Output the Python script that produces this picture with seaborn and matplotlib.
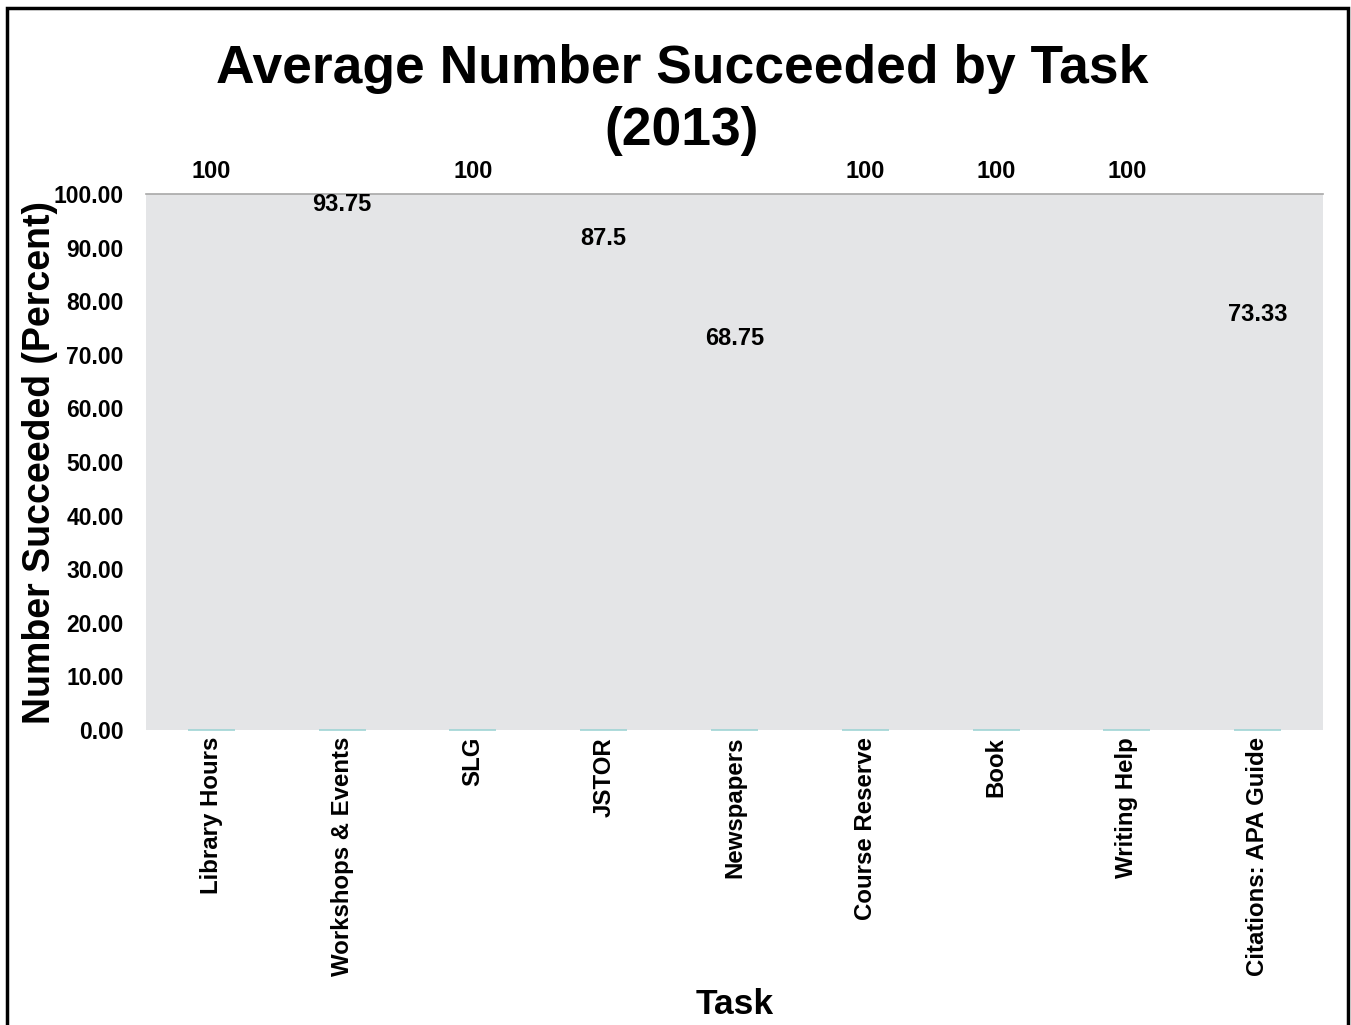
import matplotlib
matplotlib.use("Agg")
import matplotlib.pyplot as plt
import seaborn as sns
import pandas as pd
from matplotlib.patches import Rectangle

tasks = ["Library Hours", "Workshops & Events", "SLG", "JSTOR", "Newspapers",
         "Course Reserve", "Book", "Writing Help", "Citations: APA Guide"]
succeeded = [100, 93.75, 100, 87.5, 68.75, 100, 100, 100, 73.33]
value_labels = ["100", "93.75", "100", "87.5", "68.75", "100", "100", "100", "73.33"]
y_ticks = [0, 10, 20, 30, 40, 50, 60, 70, 80, 90, 100]

sns.set_theme(style="white")
plt.rcParams["font.family"] = ["Liberation Sans", "DejaVu Sans"]
plt.rcParams["font.weight"] = "bold"
plt.rcParams["text.color"] = "black"
plt.rcParams["axes.labelcolor"] = "black"
plt.rcParams["xtick.color"] = "black"
plt.rcParams["ytick.color"] = "black"

panel_bg = "#E4E5E7"
base_teal = "#9FD4D4"

df = pd.DataFrame({"Task": tasks, "Succeeded": succeeded})

fig = plt.figure(figsize=(13.51, 10.25), dpi=100)
ax = fig.add_axes([146 / 1351, 1 - 730 / 1025, (1323 - 146) / 1351, (730 - 194) / 1025])
ax.set_facecolor(panel_bg)

sns.barplot(data=df, x="Task", y="Succeeded", color=panel_bg, width=0.36,
            saturation=1, edgecolor="none", ax=ax, zorder=2)
ax.set_xlim(-0.5, len(tasks) - 0.5)

# thin teal base line under each column
for p in ax.patches:
    ax.plot([p.get_x(), p.get_x() + p.get_width()], [p.get_y(), p.get_y()],
            color=base_teal, lw=1.2, solid_capstyle="butt", zorder=3, clip_on=False)

ax.bar_label(ax.containers[0], labels=value_labels, padding=8,
             fontsize=17, fontweight="bold", color="black")

ax.set_ylim(0, 100)
ax.set_yticks(y_ticks)
ax.set_yticklabels([f"{v:.2f}" for v in y_ticks], fontsize=16.5, fontweight="bold")
ax.tick_params(axis="y", length=0, pad=16)
ax.tick_params(axis="x", length=0, pad=5)
ax.set_xticks(range(len(tasks)))
ax.set_xticklabels(tasks, rotation=90, fontsize=17.3, fontweight="bold", va="top")

for side in ["left", "right", "bottom"]:
    ax.spines[side].set_visible(False)
ax.spines["top"].set_color("#A8A8A8")
ax.spines["top"].set_linewidth(1.2)

ax.set_xlabel("Task", fontsize=25.5, fontweight="bold")
ax.set_ylabel("Number Succeeded (Percent)", fontsize=27, fontweight="bold")
ax.xaxis.set_label_coords(0.5, -(1005 - 730) / (730 - 194), transform=ax.transAxes)
ax.yaxis.set_label_coords(-(146 - 40) / (1323 - 146), 0.5, transform=ax.transAxes)
ax.xaxis.label.set_va("center")
ax.yaxis.label.set_va("center")

fig.text(682 / 1351, 1 - 100 / 1025, "Average Number Succeeded by Task\n(2013)",
         ha="center", va="center", fontsize=38.4, fontweight="bold",
         linespacing=1.3)

# outer chart frame
fig.patches.append(Rectangle((7 / 1351, -0.05), (1348 - 7) / 1351, 1.05 - 8 / 1025,
                             transform=fig.transFigure, fill=False,
                             edgecolor="black", linewidth=2.5, zorder=10))

fig.savefig("out.png", dpi=100)
